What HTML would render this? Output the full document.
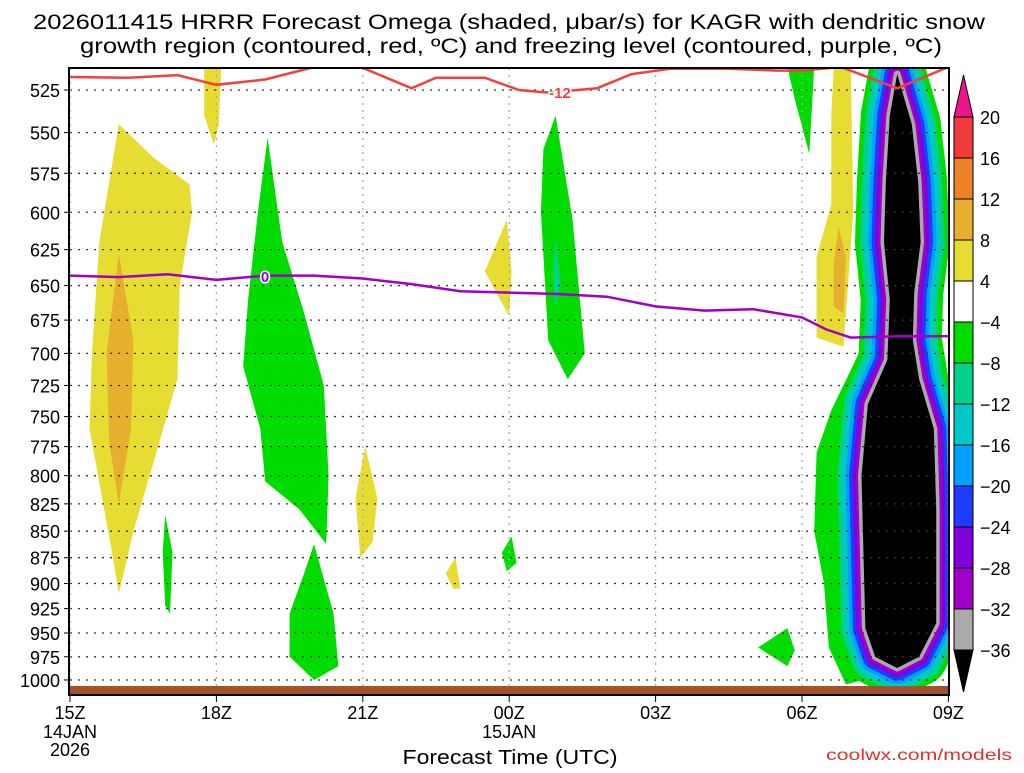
<!DOCTYPE html>
<html><head><meta charset="utf-8"><style>
body{margin:0;background:#fff;}
svg text{font-family:"Liberation Sans",sans-serif;}
</style></head><body>
<svg id="c" width="1024" height="768" xmlns="http://www.w3.org/2000/svg">
<text x="509" y="29" font-size="21" text-anchor="middle" textLength="952" lengthAdjust="spacingAndGlyphs">2026011415 HRRR Forecast Omega (shaded, μbar/s) for KAGR with dendritic snow</text>
<text x="511" y="53" font-size="21" text-anchor="middle" textLength="862" lengthAdjust="spacingAndGlyphs">growth region (contoured, red, ºC) and freezing level (contoured, purple, ºC)</text>
<defs><clipPath id="pc"><rect x="70" y="68" width="879" height="627"/></clipPath></defs>
<g id="shapes" clip-path="url(#pc)"></g>
<g id="grid"></g>
<g id="lines" clip-path="url(#pc)"></g>
<rect x="70" y="686" width="879" height="9" fill="#a0522d"/>
<rect x="69" y="68" width="880" height="627" fill="none" stroke="#000" stroke-width="2"/>
<g id="axes"></g>
<g id="cbar"></g>
<text x="510" y="764" font-size="20" text-anchor="middle" textLength="215" lengthAdjust="spacingAndGlyphs">Forecast Time (UTC)</text>
<text x="1012" y="760" font-size="16" fill="#e03030" text-anchor="end" textLength="186" lengthAdjust="spacingAndGlyphs">coolwx.com/models</text>
</svg>
<script>
const pLevels=[525,550,575,600,625,650,675,700,725,750,775,800,825,850,875,900,925,950,975,1000];
const xTickHours=[0,3,6,9,12,15,18];
const xTickLabels=["15Z","18Z","21Z","00Z","03Z","06Z","09Z"];
const cbLevels=[20,16,12,8,4,-4,-8,-12,-16,-20,-24,-28,-32,-36];
const cbColors=["#f03c3c","#ee8228","#e6af2d","#e6dc32","#ffffff","#00dc00","#00d28c","#00c8c8","#00a0ff","#1e3cff","#8200dc","#a000c8","#aaaaaa"];
const yellowLeft=[[0.4,760],[0.45,700],[0.6,620],[1.0,545],[1.7,565],[2.45,582],[2.5,600],[2.25,650],[2.2,720],[1.7,790],[1.3,850],[1.15,880],[1.0,910],[0.9,880],[0.7,830]];
const orangeLeft=[[0.75,700],[1.0,628],[1.3,690],[1.25,760],[1.0,825],[0.8,770]];
const yellowTop18=[[2.75,512],[3.1,512],[3.05,545],[2.95,557],[2.75,540]];
const greenA=[[4.05,553],[4.35,620],[4.8,670],[5.2,725],[5.3,800],[5.25,862],[4.7,830],[4.0,805],[3.9,760],[3.55,710],[3.65,660],[3.85,600]];
const greenB=[[1.95,835],[2.1,870],[2.05,930],[1.95,922],[1.9,870]];
const greenC=[[5.0,862],[5.4,930],[5.5,985],[5.0,1000],[4.5,975],[4.5,930],[4.8,890]];
const yellowD=[[6.05,775],[6.3,820],[6.2,860],[5.95,875],[5.85,820]];
const yellowE=[[7.9,875],[8.0,905],[7.85,905],[7.7,890]];
const yellowF=[[8.95,605],[9.05,640],[9.0,672],[8.5,640]];
const greenG=[[9.05,855],[9.15,880],[8.95,888],[8.85,870]];
const greenH=[[9.95,540],[10.3,605],[10.55,700],[10.2,720],[9.8,690],[9.65,600],[9.7,560]];
const tealH=[[9.95,615],[10.05,650],[9.95,665],[9.9,645]];
const greenI=[[14.7,945],[14.85,968],[14.7,985],[14.1,965]];
const greenJ=[[14.7,512],[15.25,512],[15.15,563],[14.85,530]];
const yellowK=[[15.65,512],[16.0,512],[16.05,600],[15.85,695],[15.3,688],[15.3,630],[15.6,595],[15.6,540]];
const orangeK=[[15.75,610],[15.9,630],[15.85,670],[15.65,665],[15.65,635]];
const greenBulge=[[15.6,745],[16.1,705],[16.6,705],[16.6,995],[15.9,1005],[15.55,965],[15.45,900],[15.25,850],[15.3,780]];
const tealBulge=[[15.95,760],[16.3,730],[16.6,735],[16.6,985],[16.1,990],[15.9,950],[15.8,880],[15.7,820]];
const coreCells=[[16.95,516],[17.25,545],[17.38,580],[17.43,620],[17.3,655],[17.27,690],[17.4,720],[17.7,760],[17.75,830],[17.75,940],[17.4,975],[16.95,987],[16.5,975],[16.3,945],[16.22,800],[16.35,740],[16.75,705],[16.8,660],[16.68,620],[16.72,580],[16.8,540]];
const dgzLine=[[0,517.6],[1.2,518],[2.2,516.5],[3.0,522],[4.0,519],[5.0,512],[6.0,512.5],[7.0,524],[7.5,518],[8.5,518],[9.2,525],[9.8,526.5],[10.8,524],[11.5,516],[12.3,513],[13.5,513],[14.5,514],[15.0,514],[15.8,512],[16.95,524],[18,512]];
const frzLine=[[0,643],[1,644],[2,642],[3,646],[4,643],[5,643],[6,645],[7,649],[8,654],[9,655],[10,656],[11,658],[12,665],[13,668],[14,667],[15,673],[15.5,682],[16.0,688],[17,687],[18,687]];

const NS="http://www.w3.org/2000/svg";
const X=h=>70+h*48.8;
const Y=p=>90+915.6*Math.log(p/525);
function mk(tag,attrs,parent){const e=document.createElementNS(NS,tag);for(const k in attrs)e.setAttribute(k,attrs[k]);parent.appendChild(e);return e;}
function pts(a){return a.map(d=>X(d[0]).toFixed(1)+","+Y(d[1]).toFixed(1)).join(" ");}
const S=document.getElementById("shapes");
function poly(arr,col,name){const e=mk("polygon",{points:pts(arr),fill:col,"stroke-linejoin":"round"},S);

return e;}
poly(yellowLeft,"#e6dc32","upward-region-left");
poly(orangeLeft,"#e6af2d","upward-core-left");
poly(yellowTop18,"#e6dc32","upward-region-18z");
poly(greenA,"#00dc00","downward-region-19z");
poly(greenB,"#00dc00","downward-region-17z");
poly(greenC,"#00dc00","downward-region-20z");
poly(yellowD,"#e6dc32","upward-region-21z");
poly(yellowE,"#e6dc32","upward-region-23z");
poly(yellowF,"#e6dc32","upward-region-00z");
poly(greenG,"#00dc00","downward-region-00z");
poly(greenH,"#00dc00","downward-region-01z");
poly(tealH,"#00d28c","downward-core-01z");
poly(greenI,"#00dc00","downward-region-05z");
poly(greenJ,"#00dc00","downward-region-06z");
poly(yellowK,"#e6dc32","upward-region-07z");
poly(orangeK,"#e6af2d","upward-core-07z");
poly(greenBulge,"#00dc00","downward-bulge-outer");
poly(tealBulge,"#00d28c","downward-bulge-inner");
const widths=[58,48,40,32,25,18,12,7];
const wcols=["#00dc00","#00d28c","#00c8c8","#00a0ff","#1e3cff","#8200dc","#a000c8","#aaaaaa"];
widths.forEach((w,i)=>{const e=mk("polygon",{points:pts(coreCells),fill:wcols[i],stroke:wcols[i],"stroke-width":w,"stroke-linejoin":"round"},S);

});
const core=mk("polygon",{points:pts(coreCells),fill:"#000"},S);



const G=document.getElementById("grid");
pLevels.forEach(p=>{const l=mk("line",{x1:70,x2:949,y1:Y(p),y2:Y(p),stroke:"#333","stroke-width":1.3,"stroke-dasharray":"2,6"},G);

});
xTickHours.forEach(h=>{const l=mk("line",{x1:X(h),x2:X(h),y1:68,y2:686,stroke:"#aaa","stroke-width":1.3,"stroke-dasharray":"2,5"},G);

});

const L=document.getElementById("lines");
const r=mk("polyline",{points:pts(dgzLine),fill:"none",stroke:"#f04040","stroke-width":2.5},L);


const pu=mk("polyline",{points:pts(frzLine),fill:"none",stroke:"#a000c8","stroke-width":2.5},L);


const rl=mk("text",{x:560,y:98,"font-size":15,"font-weight":"bold",fill:"#f04040","text-anchor":"middle",stroke:"#fff","stroke-width":3,"paint-order":"stroke"},L);rl.textContent="-12";


const pl=mk("text",{x:265,y:282,"font-size":15,"font-weight":"bold",fill:"#a000c8","text-anchor":"middle",stroke:"#fff","stroke-width":3,"paint-order":"stroke"},L);pl.textContent="0";



const A=document.getElementById("axes");
pLevels.forEach(p=>{const t=mk("text",{x:60,y:Y(p)+7,"font-size":18,"text-anchor":"end"},A);t.textContent=p;


const k=mk("line",{x1:64,x2:70,y1:Y(p),y2:Y(p),stroke:"#000"},A);

});
xTickHours.forEach((h,i)=>{const t=mk("text",{x:X(h),y:719,"font-size":18,"text-anchor":"middle"},A);t.textContent=xTickLabels[i];


const k=mk("line",{x1:X(h),x2:X(h),y1:695,y2:702,stroke:"#000"},A);

});
[["14JAN",X(0),738],["2026",X(0),756],["15JAN",X(9),738]].forEach(d=>{const t=mk("text",{x:d[1],y:d[2],"font-size":18,"text-anchor":"middle"},A);t.textContent=d[0];

});

const C=document.getElementById("cbar");
const cbTop=117,cbStep=41,cx=954,cw=19;
const tu=mk("polygon",{points:`${cx},${cbTop} ${cx+cw},${cbTop} ${cx+cw/2},${cbTop-42}`,fill:"#f0148c",stroke:"#000"},C);


cbColors.forEach((c,i)=>{const b=mk("rect",{x:cx,y:cbTop+i*cbStep,width:cw,height:cbStep,fill:c,stroke:"#000"},C);

});
const yb=cbTop+cbColors.length*cbStep;
const td=mk("polygon",{points:`${cx},${yb} ${cx+cw},${yb} ${cx+cw/2},${yb+42}`,fill:"#000",stroke:"#000"},C);


cbLevels.forEach((v,i)=>{const t=mk("text",{x:980,y:cbTop+i*cbStep+7,"font-size":18},C);t.textContent=v<0?"\u2212"+(-v):v;

});
</script>
</body></html>
